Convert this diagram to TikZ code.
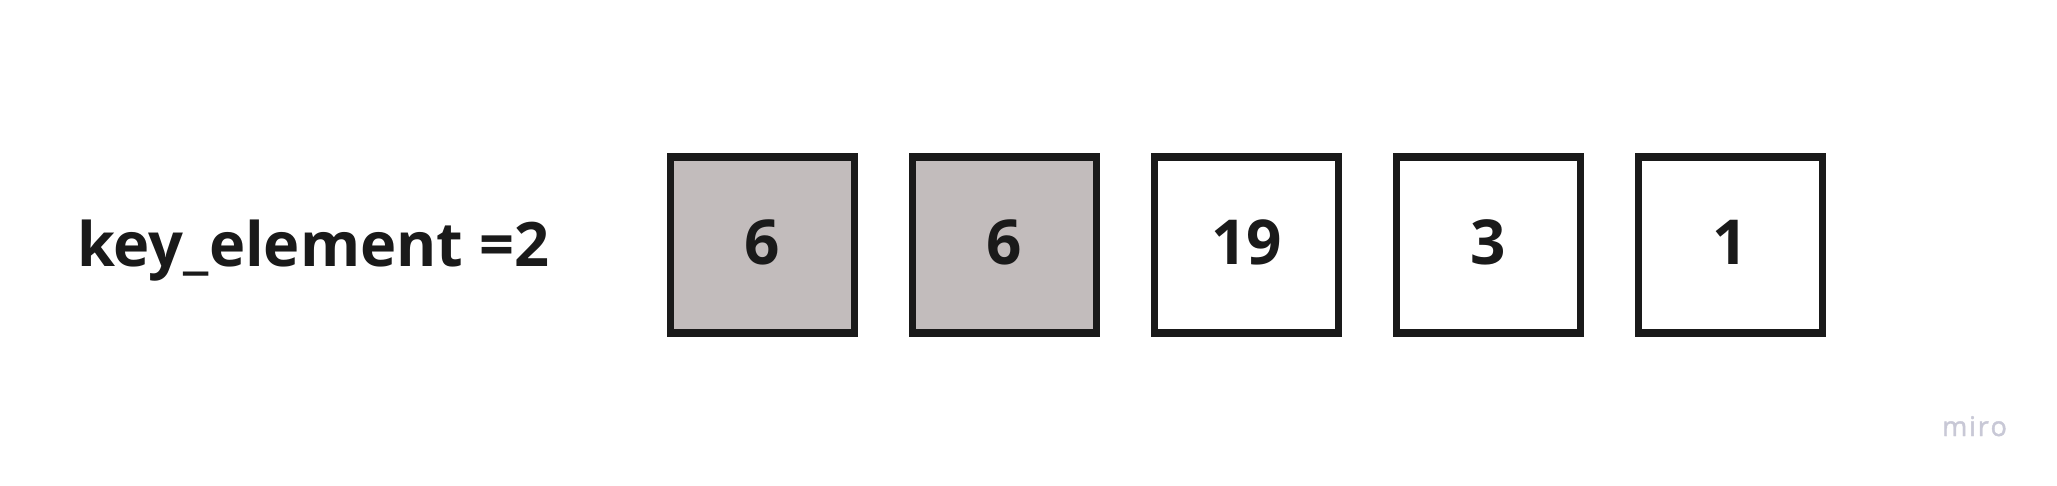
\documentclass[tikz,border=0pt]{standalone}
\usepackage{fontspec}
\setmainfont{Open Sans}[BoldFont={* Bold}]
\newfontfamily\logofont{Open Sans}[FakeBold=1.5]
\definecolor{boxfill}{RGB}{194,188,188}
\definecolor{boxline}{RGB}{26,26,26}
\definecolor{logo}{RGB}{200,200,214}
\begin{document}
\begin{tikzpicture}[x=1pt,y=-1pt,
  cell/.style={draw=boxline,line width=7.3pt,minimum width=184.3pt,minimum height=176pt,inner sep=0pt,
    font=\fontsize{62}{62}\selectfont\bfseries,text=boxline},
  shaded/.style={cell,fill=boxfill}]
\useasboundingbox[fill=white] (0,0) rectangle (2057,486);
\node[anchor=base west,inner sep=0pt,font=\fontsize{61.3}{62}\selectfont\bfseries,text=boxline] (key) at (77,266.7) {key\_element =2};
\node[shaded] (c1) at (762.5,245) {\raisebox{6pt}{6}};
\node[shaded] (c2) at (1004.5,245) {\raisebox{6pt}{6}};
\node[cell] (c3) at (1246.5,245) {\raisebox{6pt}{19}};
\node[cell] (c4) at (1488.5,245) {\raisebox{6pt}{3}};
\node[cell] (c5) at (1730.5,245) {\raisebox{6pt}{1}};
\node[anchor=base west,inner sep=0pt,font=\fontsize{27}{27}\logofont,text=logo] (miro) at (1942,436) {m\kern1.8pt i\kern1.8pt r\kern1.8pt o};
\end{tikzpicture}
\end{document}
